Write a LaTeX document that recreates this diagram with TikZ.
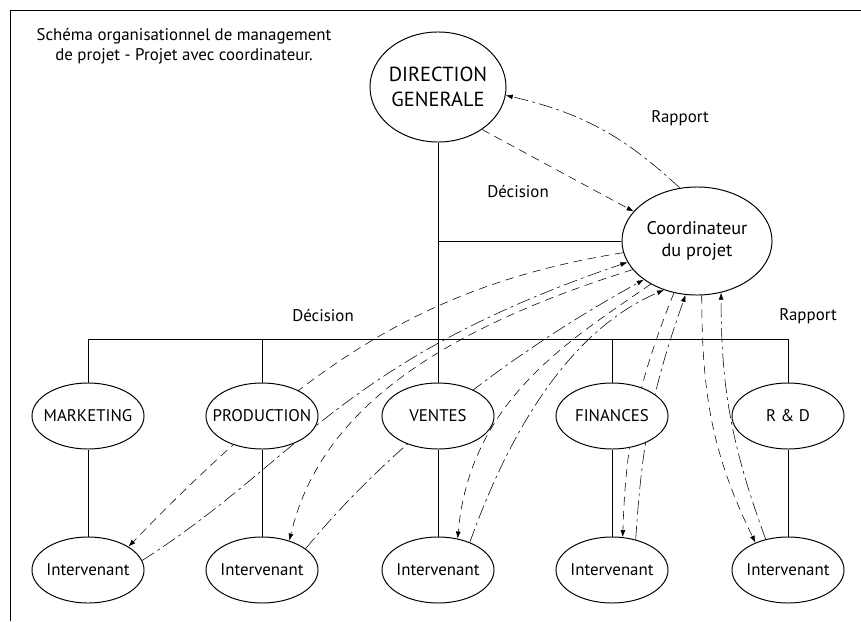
\documentclass[tikz,border=0pt]{standalone}
\usepackage{fontspec}
\setmainfont{PT Sans}
\usetikzlibrary{shapes.geometric,arrows.meta,backgrounds,positioning}

\begin{document}
\begin{tikzpicture}[x=0.025cm, y=0.025cm, font=\fontsize{12}{14}\selectfont,
   line width=0.7pt,
   unit/.style={ellipse, draw, fill=white, inner sep=0pt,
      minimum width=2.8cm, minimum height=1.65cm},
   decision/.style={dash pattern=on 6pt off 4pt, -{Latex[length=5pt,width=3.5pt]}},
   rapport/.style={dash pattern=on 10pt off 3pt on 2pt off 3pt, -{Latex[length=5pt,width=3.5pt]}}]

\useasboundingbox (0,0) rectangle (861,621);
\draw (861,611) -- (10,611) -- (10,0);

\node[align=center] (titre) at (184,575) {Schéma organisationnel de management\\de projet - Projet avec coordinateur.};

% direction et coordinateur
\node[unit, minimum width=3.4cm, minimum height=2.75cm,
   label={[align=center, font=\fontsize{14.5}{18}\selectfont]center:DIRECTION\\GENERALE}] (dg) at (438,534) {};
\node[unit, minimum width=3.75cm, minimum height=2.7cm,
   label={[align=center, font=\fontsize{13}{16}\selectfont]center:Coordinateur\\du projet}] (coord) at (697,380) {};

% services et intervenants
\foreach \n/\x/\t in {mkt/88/MARKETING, prd/262/PRODUCTION, vte/438/VENTES, fin/612/FINANCES, rd/788/{R \& D}} {
   \node[unit, label=center:\t] (\n) at (\x,205) {};
   \node[unit, label=center:Intervenant] (i\n) at (\x,51) {};
   \draw (\n) -- (i\n);
}

\draw (mkt.north) -- ++(0,43) -| (rd.north);
\foreach \n in {prd,fin}
   \draw (\n.north) -- ++(0,43);
\draw (dg) -- (vte);
\draw (coord.west) -- (coord.west -| dg.south);

\node (dec1) at (518,429) {Décision};
\node (rap1) at (680,503) {Rapport};
\node (dec2) at (323,305) {Décision};
\node (rap2) at (808,305) {Rapport};

% liaisons
\begin{scope}[on background layer]
\draw[decision] (dg.316) -- (coord.155);
\draw[rapport] (coord.108) to[bend right=15] (dg.353);
\draw[decision] (coord.189) .. controls (420,336) and (300,251) .. (imkt.30);
\draw[rapport] (imkt.10) .. controls (300,161) and (340,261) .. (coord.197);
\draw[decision] (coord.204) .. controls (440,291) and (320,211) .. (iprd.47);
\draw[rapport] (iprd.26) .. controls (370,151) and (480,251) .. (coord.216);
\draw[decision] (coord.223) .. controls (570,281) and (470,221) .. (ivte.58);
\draw[rapport] (ivte.41) .. controls (510,191) and (570,291) .. (coord.236);
\draw[decision] (coord.246) to[bend right=10] (ifin.72);
\draw[rapport] (ifin.52) to[bend left=8] (coord.258);
\draw[decision] (coord.275) to[out=-90, in=116] (ird.140);
\draw[rapport] (ird.126) to[out=110, in=-90] (coord.295);
\end{scope}
\end{tikzpicture}
\end{document}
